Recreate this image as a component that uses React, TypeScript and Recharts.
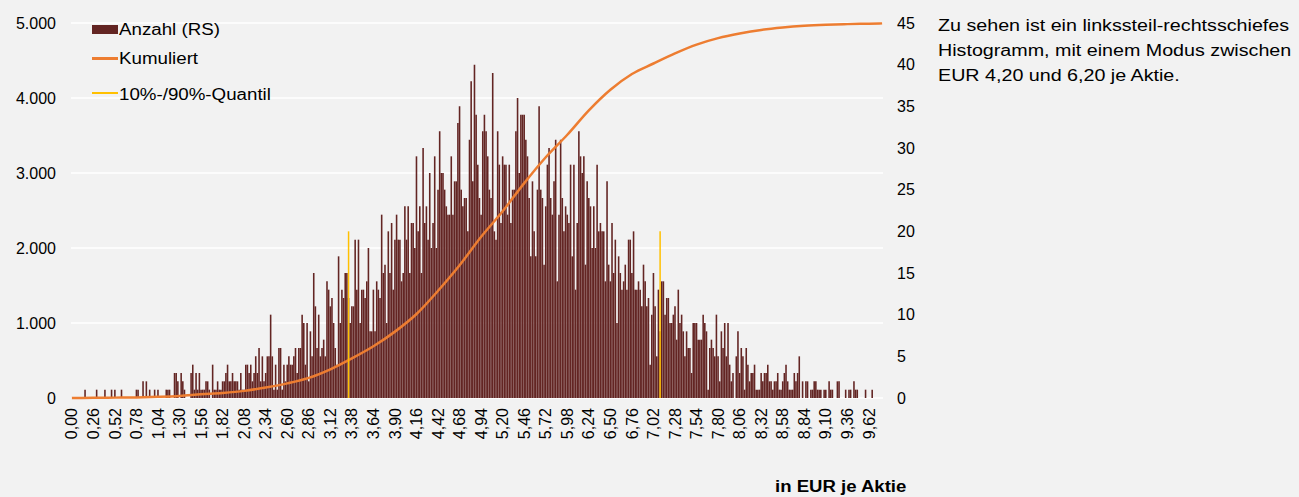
import { ComposedChart, Bar, Line, XAxis, YAxis, CartesianGrid, ReferenceLine } from 'recharts';

// Histogramm: Anzahl je Klasse (Klassenbreite EUR 0,02), rechte Skala
const binWidth = 0.02;
const counts = [
  0, 0, 0, 0, 0, 0, 0, 0, 1, 0,
  0, 0, 0, 0, 0, 1, 0, 0, 0, 0,
  1, 0, 0, 0, 1, 0, 1, 0, 0, 0,
  1, 0, 0, 0, 0, 0, 0, 0, 0, 1,
  1, 0, 0, 2, 0, 2, 0, 1, 0, 0,
  1, 0, 1, 0, 0, 0, 0, 1, 1, 1,
  0, 0, 3, 3, 2, 0, 3, 2, 1, 0,
  0, 0, 3, 4, 1, 3, 1, 3, 1, 1,
  1, 2, 2, 1, 0, 4, 1, 1, 2, 1,
  1, 2, 2, 3, 4, 2, 2, 3, 2, 2,
  2, 1, 3, 1, 1, 4, 4, 3, 4, 2,
  3, 5, 3, 6, 2, 5, 2, 3, 5, 5,
  10, 5, 1, 4, 1, 6, 6, 1, 4, 2,
  4, 5, 4, 4, 5, 6, 3, 6, 6, 10,
  9, 4, 9, 2, 8, 5, 15, 11, 6, 10,
  5, 6, 7, 5, 14, 13, 11, 12, 9, 6,
  4, 17, 9, 13, 12, 15, 15, 12, 9, 11,
  11, 19, 13, 19, 9, 13, 13, 12, 14, 18,
  8, 8, 13, 8, 14, 13, 12, 22, 15, 16,
  9, 20, 15, 21, 13, 19, 22, 19, 19, 14,
  15, 23, 19, 23, 15, 21, 21, 18, 29, 20,
  23, 15, 30, 21, 23, 19, 27, 18, 21, 29,
  18, 25, 32, 27, 27, 25, 23, 22, 22, 29,
  22, 26, 26, 33, 35, 25, 23, 24, 24, 20,
  31, 38, 26, 40, 34, 28, 24, 22, 32, 34,
  32, 29, 25, 24, 39, 20, 19, 32, 28, 21,
  29, 28, 28, 22, 28, 21, 25, 25, 32, 36,
  27, 34, 34, 34, 31, 29, 24, 17, 26, 20,
  17, 25, 35, 25, 24, 16, 23, 28, 30, 24,
  22, 26, 31, 14, 22, 31, 24, 20, 23, 22,
  21, 28, 17, 28, 13, 21, 32, 29, 27, 29,
  16, 26, 24, 23, 18, 23, 18, 28, 20, 21,
  20, 20, 14, 26, 16, 14, 21, 15, 19, 9,
  17, 15, 13, 14, 16, 13, 19, 19, 15, 20,
  13, 13, 14, 13, 11, 16, 14, 11, 12, 4,
  10, 15, 11, 5, 13, 8, 14, 14, 10, 12,
  12, 9, 9, 10, 11, 7, 13, 9, 10, 8,
  5, 8, 6, 6, 3, 9, 9, 9, 7, 7,
  7, 10, 9, 8, 1, 6, 7, 6, 5, 10,
  5, 2, 8, 6, 9, 5, 9, 4, 2, 3,
  0, 5, 8, 3, 6, 5, 1, 6, 4, 2,
  3, 3, 4, 1, 1, 1, 3, 2, 3, 3,
  4, 2, 2, 1, 2, 2, 3, 1, 1, 2,
  3, 4, 2, 1, 1, 1, 3, 2, 3, 5,
  0, 2, 0, 2, 2, 0, 1, 1, 2, 2,
  1, 1, 1, 0, 1, 1, 0, 2, 1, 1,
  0, 0, 2, 2, 0, 0, 0, 1, 0, 1,
  1, 0, 2, 1, 1, 0, 0, 0, 0, 1,
  0, 0, 0, 1, 0, 0, 0, 0, 0, 0,
];

const tickStep = 13;
const cumulative = [
  0, 2, 5, 8, 16, 28, 50, 68, 95, 140,
  195, 268, 382, 528, 690, 885, 1120, 1430, 1770, 2150,
  2490, 2865, 3210, 3510, 3835, 4110, 4320, 4460, 4595, 4712,
  4798, 4860, 4908, 4940, 4962, 4976, 4985, 4991, 4995,
];

// 10%- und 90%-Quantil (Klassenindex), Höhe auf rechter Skala
const quantileBins = [167, 355];
const quantileHeight = 20;

const leftTicks = [0, 1000, 2000, 3000, 4000, 5000];
const rightTicks = [0, 5, 10, 15, 20, 25, 30, 35, 40, 45];

const fmtBin = (i: number) => (i * binWidth).toFixed(2).replace('.', ',');
const fmtThousands = (v: number) => (v >= 1000 ? `${v / 1000}.000` : String(v));

const cumAt = new Map<number, number>();
cumulative.forEach((v, k) => cumAt.set(Math.min(k * tickStep, counts.length - 1), v));

const data = counts.map((c, i) => ({
  bin: fmtBin(i),
  count: c,
  cum: cumAt.has(i) ? cumAt.get(i) : null,
}));

const FONT = '"Liberation Sans", Arial, sans-serif';
const MAROON = '#632523';
const ORANGE = '#ED7D31';
const YELLOW = '#FFC000';

const XTick = (props: any) => {
  const { x, y, payload } = props;
  return (
    <text
      x={x}
      y={y}
      transform={`rotate(-90, ${x}, ${y})`}
      textAnchor="end"
      dy="0.35em"
      fontSize={16}
      fontFamily={FONT}
      fill="#000"
    >
      {payload.value}
    </text>
  );
};

// Text etwas in die Breite gezogen wie im Original
const wide = (k: number): React.CSSProperties => ({
  position: 'absolute',
  whiteSpace: 'nowrap',
  transform: `scaleX(${k})`,
  transformOrigin: 'left center',
});

export default function App() {
  return (
    <div
      style={{
        position: 'absolute',
        left: 0,
        top: 0,
        width: 1299,
        height: 497,
        background: '#f2f2f2',
        fontFamily: FONT,
        color: '#000',
      }}
    >
      <ComposedChart
        width={1299}
        height={497}
        data={data}
        margin={{ top: 23, right: 356, bottom: 0, left: 0 }}
      >
        <CartesianGrid yAxisId="left" vertical={false} stroke="#ffffff" strokeWidth={1.5} />
        <XAxis
          dataKey="bin"
          interval={tickStep - 1}
          height={99}
          axisLine={false}
          tickLine={false}
          tickSize={0}
          tickMargin={10}
          tick={<XTick />}
        />
        <YAxis
          yAxisId="left"
          domain={[0, 5000]}
          ticks={leftTicks}
          width={71}
          axisLine={false}
          tickLine={false}
          tickSize={0}
          tickMargin={15}
          tickFormatter={fmtThousands}
          tick={{ fontSize: 16, fill: '#000', fontFamily: FONT }}
        />
        <YAxis
          yAxisId="right"
          orientation="right"
          domain={[0, 45]}
          ticks={rightTicks}
          width={60}
          axisLine={false}
          tickLine={false}
          tickSize={0}
          tickMargin={14}
          tick={{ fontSize: 16, fill: '#000', fontFamily: FONT, textAnchor: 'start' }}
        />
        <Bar yAxisId="right" dataKey="count" fill={MAROON} barSize={1.58} isAnimationActive={false} />
        <Line
          yAxisId="left"
          dataKey="cum"
          type="monotone"
          connectNulls
          stroke={ORANGE}
          strokeWidth={2.5}
          dot={false}
          isAnimationActive={false}
        />
        {quantileBins.map((b) => (
          <ReferenceLine
            key={b}
            yAxisId="right"
            segment={[
              { x: fmtBin(b), y: 0 },
              { x: fmtBin(b), y: quantileHeight },
            ]}
            stroke={YELLOW}
            strokeWidth={1.5}
          />
        ))}
      </ComposedChart>

      {/* Legende */}
      <div style={{ position: 'absolute', left: 92, top: 25, width: 26, height: 9, background: MAROON }} />
      <div style={{ ...wide(1.17), left: 119, top: 20, fontSize: 16, lineHeight: '20px' }}>Anzahl (RS)</div>
      <div style={{ position: 'absolute', left: 92, top: 57, width: 26, height: 3, background: ORANGE }} />
      <div style={{ ...wide(1.17), left: 119, top: 49, fontSize: 16, lineHeight: '20px' }}>Kumuliert</div>
      <div style={{ position: 'absolute', left: 92, top: 92, width: 26, height: 2, background: YELLOW }} />
      <div style={{ ...wide(1.17), left: 119, top: 85, fontSize: 16, lineHeight: '20px' }}>10%-/90%-Quantil</div>

      {/* Kommentar rechts */}
      <div style={{ ...wide(1.23), left: 938, top: 12.5, fontSize: 16, lineHeight: '25px' }}>
        Zu sehen ist ein linkssteil-rechtsschiefes
        <br />
        Histogramm, mit einem Modus zwischen
        <br />
        EUR 4,20 und 6,20 je Aktie.
      </div>

      <div style={{ ...wide(1.16), left: 775, top: 477, fontSize: 16, fontWeight: 'bold', lineHeight: '20px' }}>
        in EUR je Aktie
      </div>
    </div>
  );
}
